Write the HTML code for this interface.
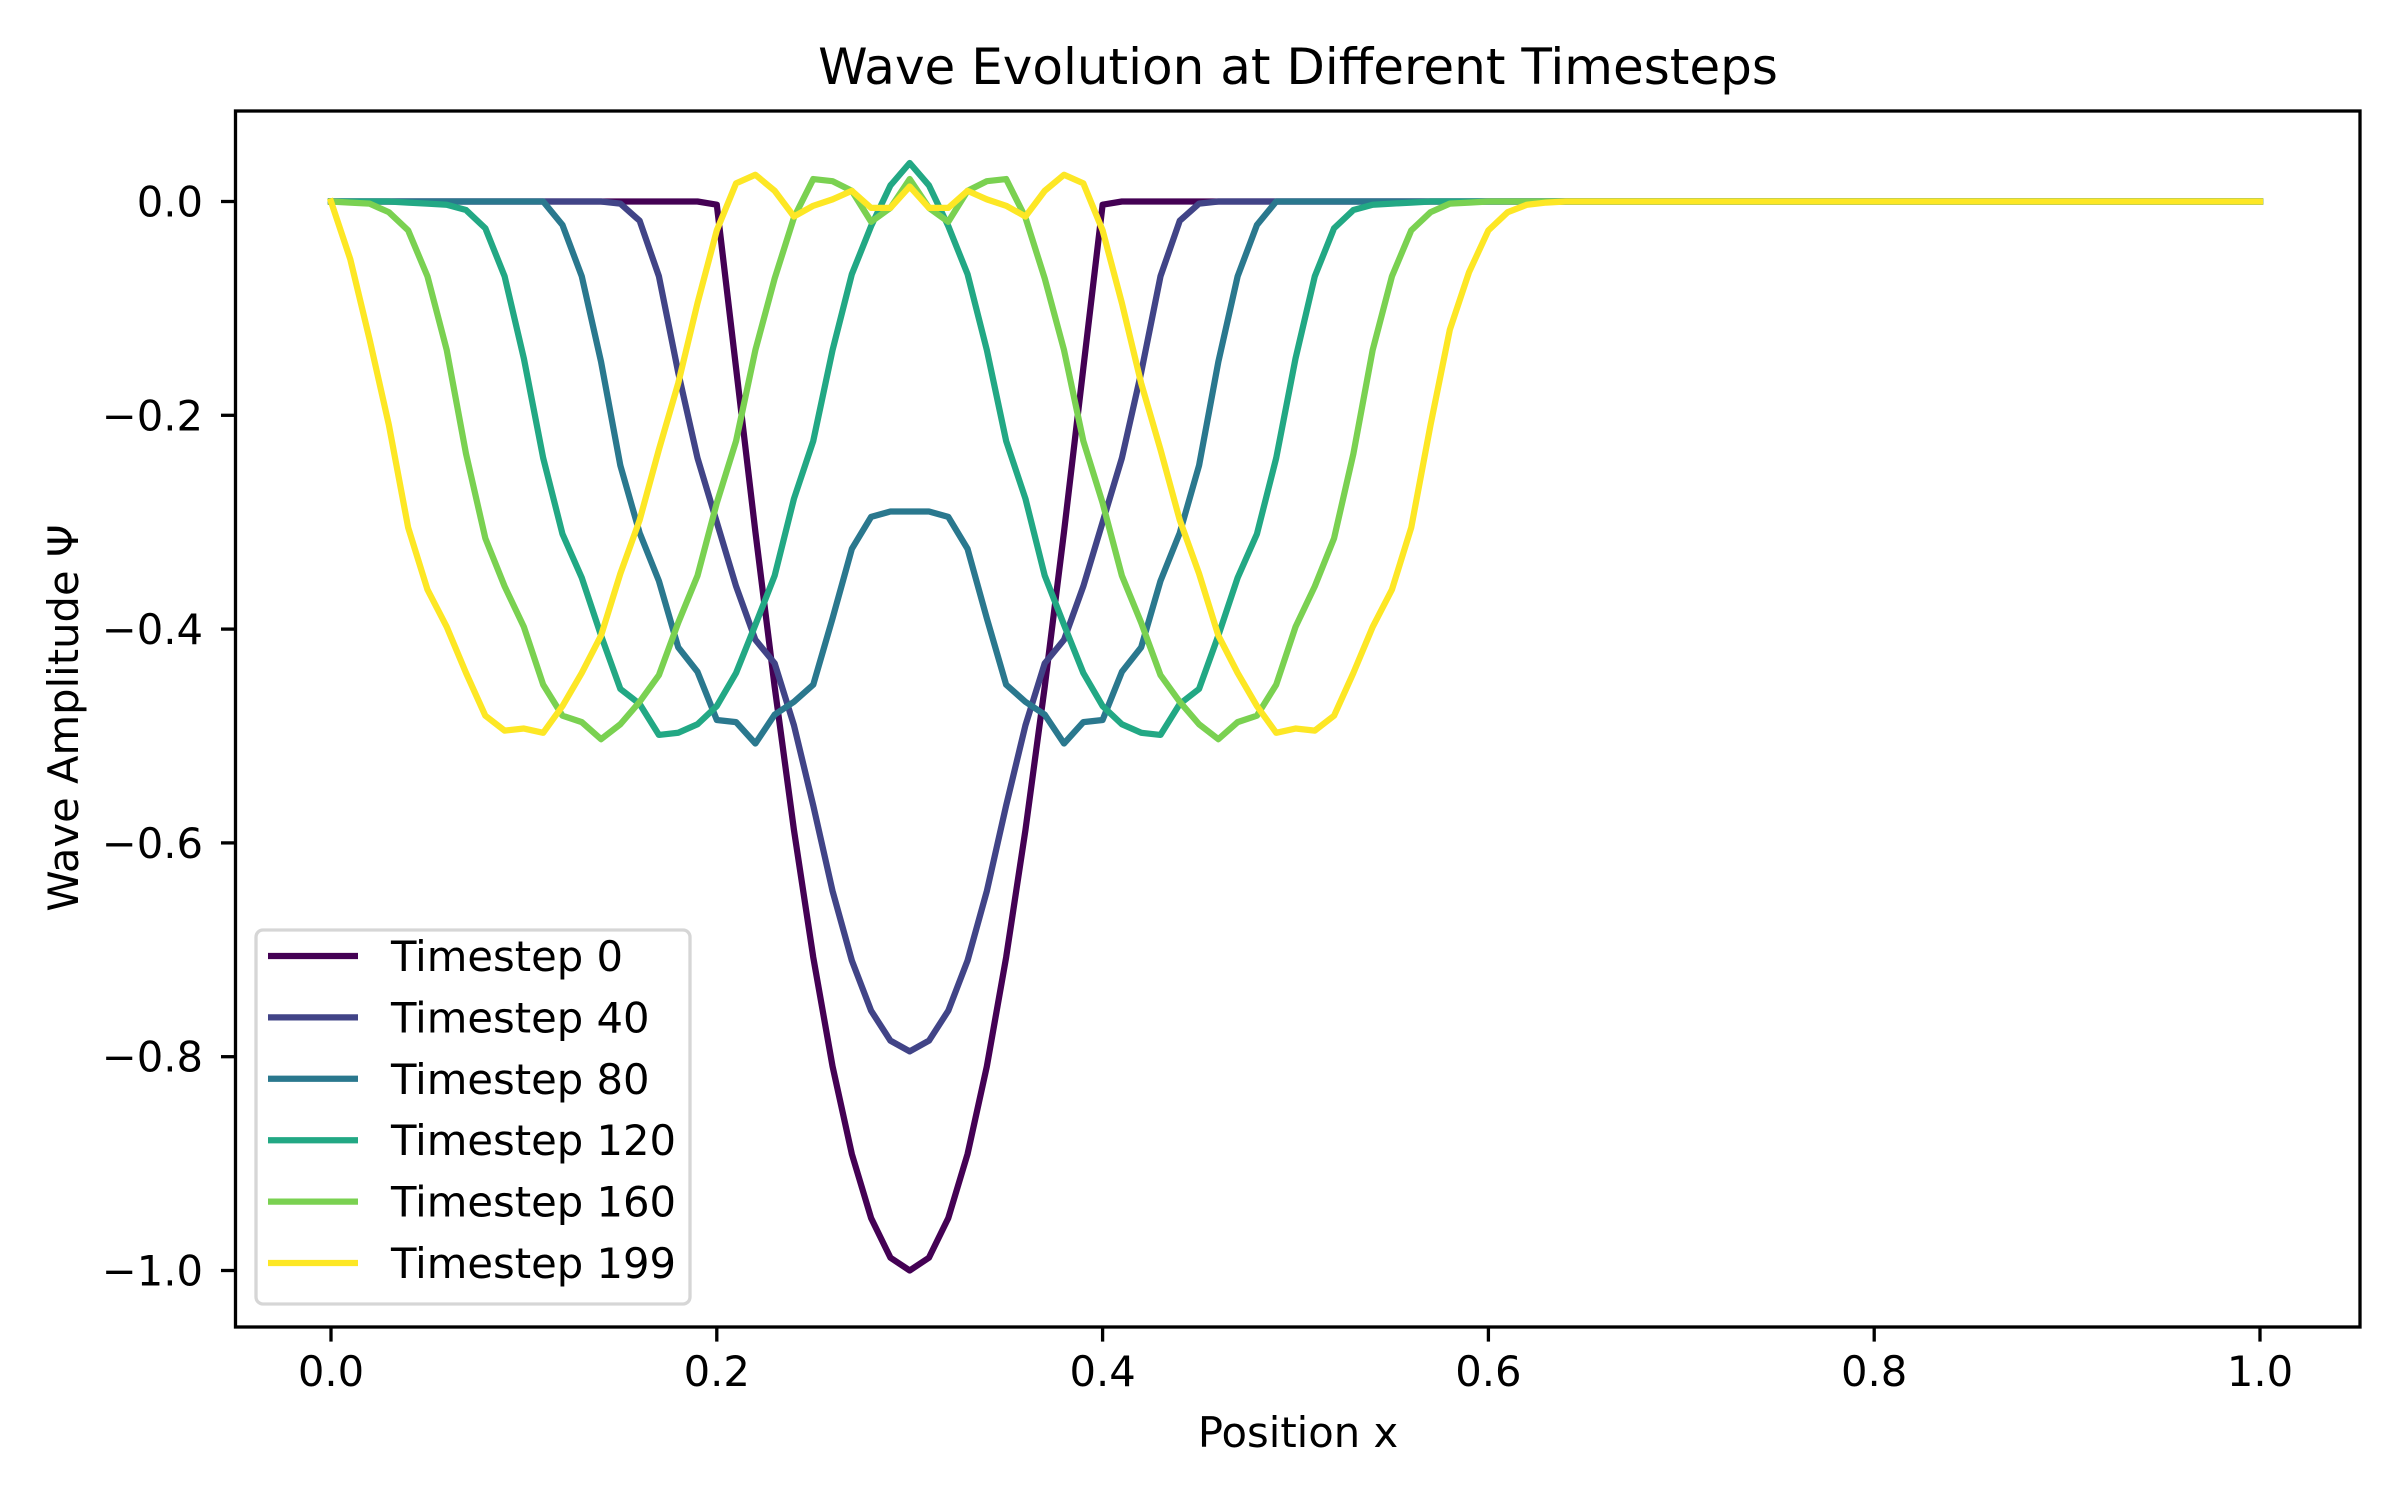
<!DOCTYPE html>
<html><head><meta charset="utf-8"><style>
html,body{margin:0;padding:0;background:#fff;}
svg text{font-family:"DejaVu Sans","Liberation Sans",sans-serif;fill:#000;}
</style></head><body>
<svg id="chart" width="2400" height="1500" viewBox="0 0 2400 1500" xmlns="http://www.w3.org/2000/svg">
<rect x="0" y="0" width="2400" height="1500" fill="#fff"/>
<text x="1298" y="84" font-size="50" text-anchor="middle">Wave Evolution at Different Timesteps</text>
<text x="1298" y="1447" font-size="41.7" text-anchor="middle">Position x</text>
<text x="0" y="0" font-size="41.7" text-anchor="middle" transform="translate(78,718) rotate(-90)">Wave Amplitude Ψ</text>
<g id="plot"></g>
<rect x="235.5" y="111" width="2124.5" height="1216" fill="none" stroke="#000" stroke-width="3.3"/>
<g id="ticks"></g>
<g id="legend"></g>
</svg>
<script>
const xTicks = [0, 0.2, 0.4, 0.6, 0.8, 1.0];
const xTickLabels = ["0.0", "0.2", "0.4", "0.6", "0.8", "1.0"];
const yTicks = [0, -0.2, -0.4, -0.6, -0.8, -1.0];
const yTickLabels = ["0.0", "\u22120.2", "\u22120.4", "\u22120.6", "\u22120.8", "\u22121.0"];
const seriesNames = ["Timestep 0", "Timestep 40", "Timestep 80", "Timestep 120", "Timestep 160", "Timestep 199"];
const seriesColors = ["#440154", "#414487", "#2a788e", "#22a884", "#7ad151", "#fde725"];
// values at x = 0.00, 0.01, ... (remaining points are 0)
const t0 = [0,0,0,0,0,0,0,0,0,0,0,0,0,0,0,0,0,0,0,0,-0.003,-0.156,-0.309,-0.454,-0.588,-0.707,-0.809,-0.891,-0.951,-0.988,-1.0,-0.988,-0.951,-0.891,-0.809,-0.707,-0.588,-0.454,-0.309,-0.156,-0.003,0];
const t40 = [0,0,0,0,0,0,0,0,0,0,0,0,0,0,0,-0.002,-0.018,-0.07,-0.16,-0.24,-0.30,-0.36,-0.41,-0.432,-0.49,-0.565,-0.645,-0.71,-0.757,-0.785,-0.795,-0.785,-0.757,-0.71,-0.645,-0.565,-0.49,-0.432,-0.41,-0.36,-0.30,-0.24,-0.16,-0.07,-0.018,-0.002,0];
const t80 = [0,0,0,0,0,0,0,0,0,0,0,0,-0.022,-0.07,-0.15,-0.247,-0.31,-0.355,-0.417,-0.44,-0.485,-0.487,-0.507,-0.48,-0.468,-0.452,-0.39,-0.325,-0.295,-0.29,-0.29,-0.29,-0.295,-0.325,-0.39,-0.452,-0.468,-0.48,-0.507,-0.487,-0.485,-0.44,-0.417,-0.355,-0.31,-0.247,-0.15,-0.07,-0.022,0];
const t120 = [0,0,0,0,-0.001,-0.002,-0.003,-0.008,-0.025,-0.07,-0.147,-0.24,-0.311,-0.352,-0.406,-0.456,-0.47,-0.499,-0.497,-0.489,-0.472,-0.441,-0.396,-0.35,-0.278,-0.224,-0.139,-0.068,-0.023,0.015,0.036,0.015,-0.023,-0.068,-0.139,-0.224,-0.278,-0.35,-0.396,-0.441,-0.472,-0.489,-0.497,-0.499,-0.47,-0.456,-0.406,-0.352,-0.311,-0.24,-0.147,-0.07,-0.025,-0.008,-0.003,-0.002,-0.001,0];
const t160 = [0,-0.001,-0.002,-0.01,-0.027,-0.07,-0.139,-0.236,-0.315,-0.36,-0.398,-0.452,-0.481,-0.487,-0.503,-0.489,-0.468,-0.443,-0.394,-0.35,-0.282,-0.224,-0.139,-0.072,-0.015,0.021,0.019,0.01,-0.019,-0.006,0.021,-0.006,-0.019,0.01,0.019,0.021,-0.015,-0.072,-0.139,-0.224,-0.282,-0.35,-0.394,-0.443,-0.468,-0.489,-0.503,-0.487,-0.481,-0.452,-0.398,-0.36,-0.315,-0.236,-0.139,-0.07,-0.027,-0.01,-0.002,-0.001,0];
const t199 = [0,-0.054,-0.129,-0.209,-0.305,-0.363,-0.398,-0.441,-0.481,-0.495,-0.493,-0.497,-0.472,-0.441,-0.406,-0.348,-0.298,-0.232,-0.17,-0.095,-0.027,0.017,0.025,0.01,-0.014,-0.004,0.002,0.01,-0.006,-0.006,0.014,-0.006,-0.006,0.01,0.002,-0.004,-0.014,0.01,0.025,0.017,-0.027,-0.095,-0.17,-0.232,-0.298,-0.348,-0.406,-0.441,-0.472,-0.497,-0.493,-0.495,-0.481,-0.441,-0.398,-0.363,-0.305,-0.209,-0.12,-0.066,-0.027,-0.01,-0.003,-0.001,0];
const allSeries = [t0, t40, t80, t120, t160, t199];
const nPoints = 101;

const NS = "http://www.w3.org/2000/svg";
function xs(v){ return 331 + 1929 * v; }
function ys(v){ return 201.5 - 1069 * v; }
function mk(tag, attrs, parent){ const e = document.createElementNS(NS, tag); for (const k in attrs) e.setAttribute(k, attrs[k]); parent.appendChild(e); return e; }

const plot = document.getElementById("plot");
allSeries.forEach((s, si) => {
  const pts = [];
  for (let i = 0; i < nPoints; i++) {
    const v = i < s.length ? s[i] : 0;
    pts.push(xs(i / 100).toFixed(2) + "," + ys(v).toFixed(2));
  }
  const pl = mk("polyline", {points: pts.join(" "), fill: "none", stroke: seriesColors[si], "stroke-width": 6.25, "stroke-linejoin": "round", "stroke-linecap": "square"}, plot);
  
  
});

const ticks = document.getElementById("ticks");
xTicks.forEach((v, i) => {
  const t = mk("line", {x1: xs(v), x2: xs(v), y1: 1327, y2: 1341.6, stroke: "#000", "stroke-width": 3.3}, ticks);
  
  
  const l = mk("text", {x: xs(v), y: 1386, "font-size": 41.7, "text-anchor": "middle"}, ticks);
  l.textContent = xTickLabels[i];
  
  
});
yTicks.forEach((v, i) => {
  const t = mk("line", {x1: 221, x2: 235.5, y1: ys(v), y2: ys(v), stroke: "#000", "stroke-width": 3.3}, ticks);
  
  
  const l = mk("text", {x: 203, y: ys(v) + 15, "font-size": 41.7, "text-anchor": "end"}, ticks);
  l.textContent = yTickLabels[i];
  
  
});

const legend = document.getElementById("legend");
const box = mk("rect", {x: 256, y: 930, width: 434, height: 374, rx: 7, fill: "#fff", "fill-opacity": 0.8, stroke: "#d6d6d6", "stroke-width": 3.3}, legend);


seriesNames.forEach((n, i) => {
  const y = 1263 - 61.4 * (seriesNames.length - 1 - i);
  const g = mk("g", {}, legend);
  
  
  mk("line", {x1: 268, x2: 358, y1: y, y2: y, stroke: seriesColors[i], "stroke-width": 6.25}, g);
  const t = mk("text", {x: 391, y: y + 15, "font-size": 41.7}, g);
  t.textContent = n;
});
</script>
</body></html>
